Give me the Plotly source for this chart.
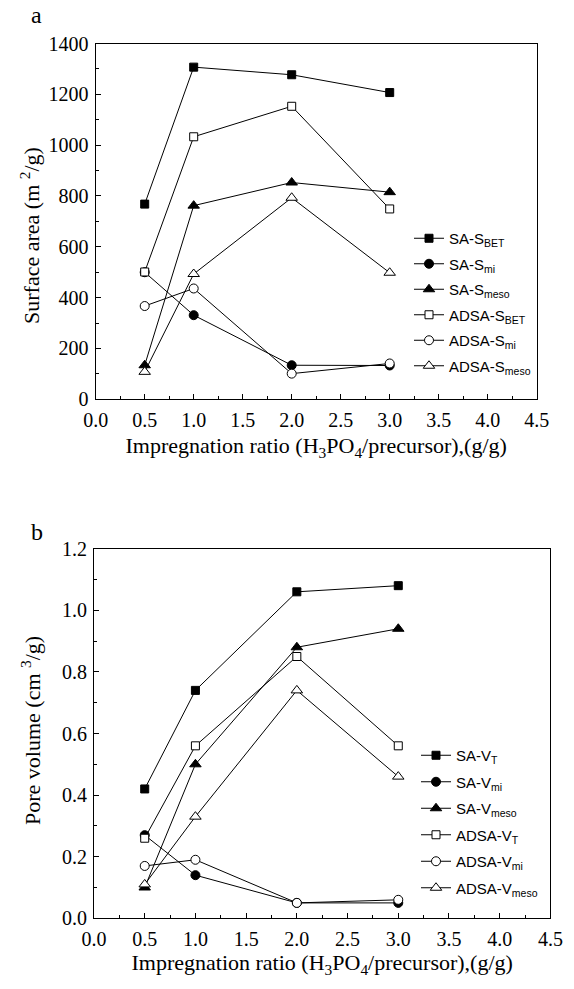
import plotly.graph_objects as go

# ---- data ----
ratio = [0.5, 1.0, 2.0, 3.0]

sa_s_bet = [768, 1307, 1277, 1207]
sa_s_mi = [500, 331, 134, 133]
sa_s_meso = [134, 762, 853, 815]
adsa_s_bet = [501, 1033, 1153, 749]
adsa_s_mi = [367, 436, 101, 141]
adsa_s_meso = [108, 493, 793, 498]

sa_v_t = [0.42, 0.74, 1.06, 1.08]
sa_v_mi = [0.27, 0.14, 0.05, 0.05]
sa_v_meso = [0.10, 0.50, 0.88, 0.94]
adsa_v_t = [0.26, 0.56, 0.85, 0.56]
adsa_v_mi = [0.17, 0.19, 0.05, 0.06]
adsa_v_meso = [0.11, 0.33, 0.74, 0.46]

W, H = 574, 989
SERIF = "Liberation Serif"
SANS = "Liberation Sans"

def px(x):
    return x / W

def py(y):
    return 1 - y / H

styles = [
    ("square", "black", 8),
    ("circle", "black", 9),
    ("triangle-up", "black", 10),
    ("square", "white", 8),
    ("circle", "white", 9),
    ("triangle-up", "white", 10),
]

fig = go.Figure()

top_series = [sa_s_bet, sa_s_mi, sa_s_meso, adsa_s_bet, adsa_s_mi, adsa_s_meso]
top_names = ["SA-S<sub>BET</sub>", "SA-S<sub>mi</sub>", "SA-S<sub>meso</sub>",
             "ADSA-S<sub>BET</sub>", "ADSA-S<sub>mi</sub>", "ADSA-S<sub>meso</sub>"]
bot_series = [sa_v_t, sa_v_mi, sa_v_meso, adsa_v_t, adsa_v_mi, adsa_v_meso]
bot_names = ["SA-V<sub>T</sub>", "SA-V<sub>mi</sub>", "SA-V<sub>meso</sub>",
             "ADSA-V<sub>T</sub>", "ADSA-V<sub>mi</sub>", "ADSA-V<sub>meso</sub>"]

for i, (vals, name) in enumerate(zip(top_series, top_names)):
    sym, col, sz = styles[i]
    fig.add_trace(go.Scatter(
        x=ratio, y=vals, name=name, mode="lines+markers",
        line=dict(color="black", width=1),
        marker=dict(symbol=sym, color=col, size=sz, line=dict(color="black", width=1)),
        xaxis="x", yaxis="y", legend="legend", legendgroup="t%d" % i,
    ))

for i, (vals, name) in enumerate(zip(bot_series, bot_names)):
    sym, col, sz = styles[i]
    fig.add_trace(go.Scatter(
        x=ratio, y=vals, name=name, mode="lines+markers",
        line=dict(color="black", width=1),
        marker=dict(symbol=sym, color=col, size=sz, line=dict(color="black", width=1)),
        xaxis="x2", yaxis="y2", legend="legend2", legendgroup="b%d" % i,
    ))

axis_common = dict(
    showline=True, linecolor="black", linewidth=1.2, mirror=True,
    ticks="inside", ticklen=5, tickwidth=1, tickcolor="black",
    showgrid=False, zeroline=False, automargin=False,
    tickfont=dict(family=SERIF, size=20, color="black"),
    title_font=dict(family=SERIF, size=22, color="black"),
)

xtitle = "Impregnation ratio (H<sub>3</sub>PO<sub>4</sub>/precursor),(g/g)"
title_font = dict(family=SERIF, size=22, color="black")

fig.update_layout(
    template="none",
    width=W, height=H,
    margin=dict(l=0, r=0, t=0, b=0, autoexpand=False),
    paper_bgcolor="white", plot_bgcolor="white",
    xaxis=dict(domain=[px(95.7), px(536.7)], anchor="y", range=[0, 4.5],
               dtick=0.5, tick0=0, tickformat=".1f", ticklabelstandoff=3,
               minor=dict(ticks="inside", dtick=0.25, ticklen=3, tickcolor="black"),
               title=dict(text=xtitle, standoff=7), **axis_common),
    yaxis=dict(domain=[py(399.3), py(43.5)], anchor="x", range=[0, 1400],
               dtick=200, tick0=0, ticklabelstandoff=2,
               minor=dict(ticks="inside", dtick=100, ticklen=3, tickcolor="black"),
               **axis_common),
    xaxis2=dict(domain=[px(94), px(550.4)], anchor="y2", range=[0, 4.5],
                dtick=0.5, tick0=0, tickformat=".1f", ticklabelstandoff=3,
                minor=dict(ticks="inside", dtick=0.25, ticklen=3, tickcolor="black"),
                title=dict(text=xtitle, standoff=4), **axis_common),
    yaxis2=dict(domain=[py(918.3), py(548.7)], anchor="x2", range=[0, 1.2],
                dtick=0.2, tick0=0, tickformat=".1f", ticklabelstandoff=2,
                minor=dict(ticks="inside", dtick=0.1, ticklen=3, tickcolor="black"),
                **axis_common),
    legend=dict(x=px(409), y=py(222), xanchor="left", yanchor="top",
                bgcolor="rgba(0,0,0,0)", borderwidth=0, tracegroupgap=3,
                font=dict(family=SANS, size=15, color="black"), itemwidth=30),
    legend2=dict(x=px(416), y=py(739), xanchor="left", yanchor="top",
                 bgcolor="rgba(0,0,0,0)", borderwidth=0, tracegroupgap=4,
                 font=dict(family=SANS, size=15, color="black"), itemwidth=30),
    annotations=[
        dict(text="a", x=px(36), y=py(15), xref="paper", yref="paper",
             xanchor="center", yanchor="middle",
             showarrow=False, font=dict(family=SERIF, size=24, color="black")),
        dict(text="b", x=px(36.5), y=py(532), xref="paper", yref="paper",
             xanchor="center", yanchor="middle",
             showarrow=False, font=dict(family=SERIF, size=24, color="black")),
        dict(text="Surface area (m <sup>2</sup>/g)", textangle=-90,
             x=px(30), y=py(236), xref="paper", yref="paper",
             xanchor="center", yanchor="middle", showarrow=False, font=title_font),
        dict(text="Pore volume (cm <sup>3</sup>/g)", textangle=-90,
             x=px(31), y=py(731), xref="paper", yref="paper",
             xanchor="center", yanchor="middle", showarrow=False, font=title_font),
    ],
)

fig.write_html("out.html",
               config={"displayModeBar": False},
               post_script="document.body.style.margin='0';document.body.style.overflow='hidden';")
